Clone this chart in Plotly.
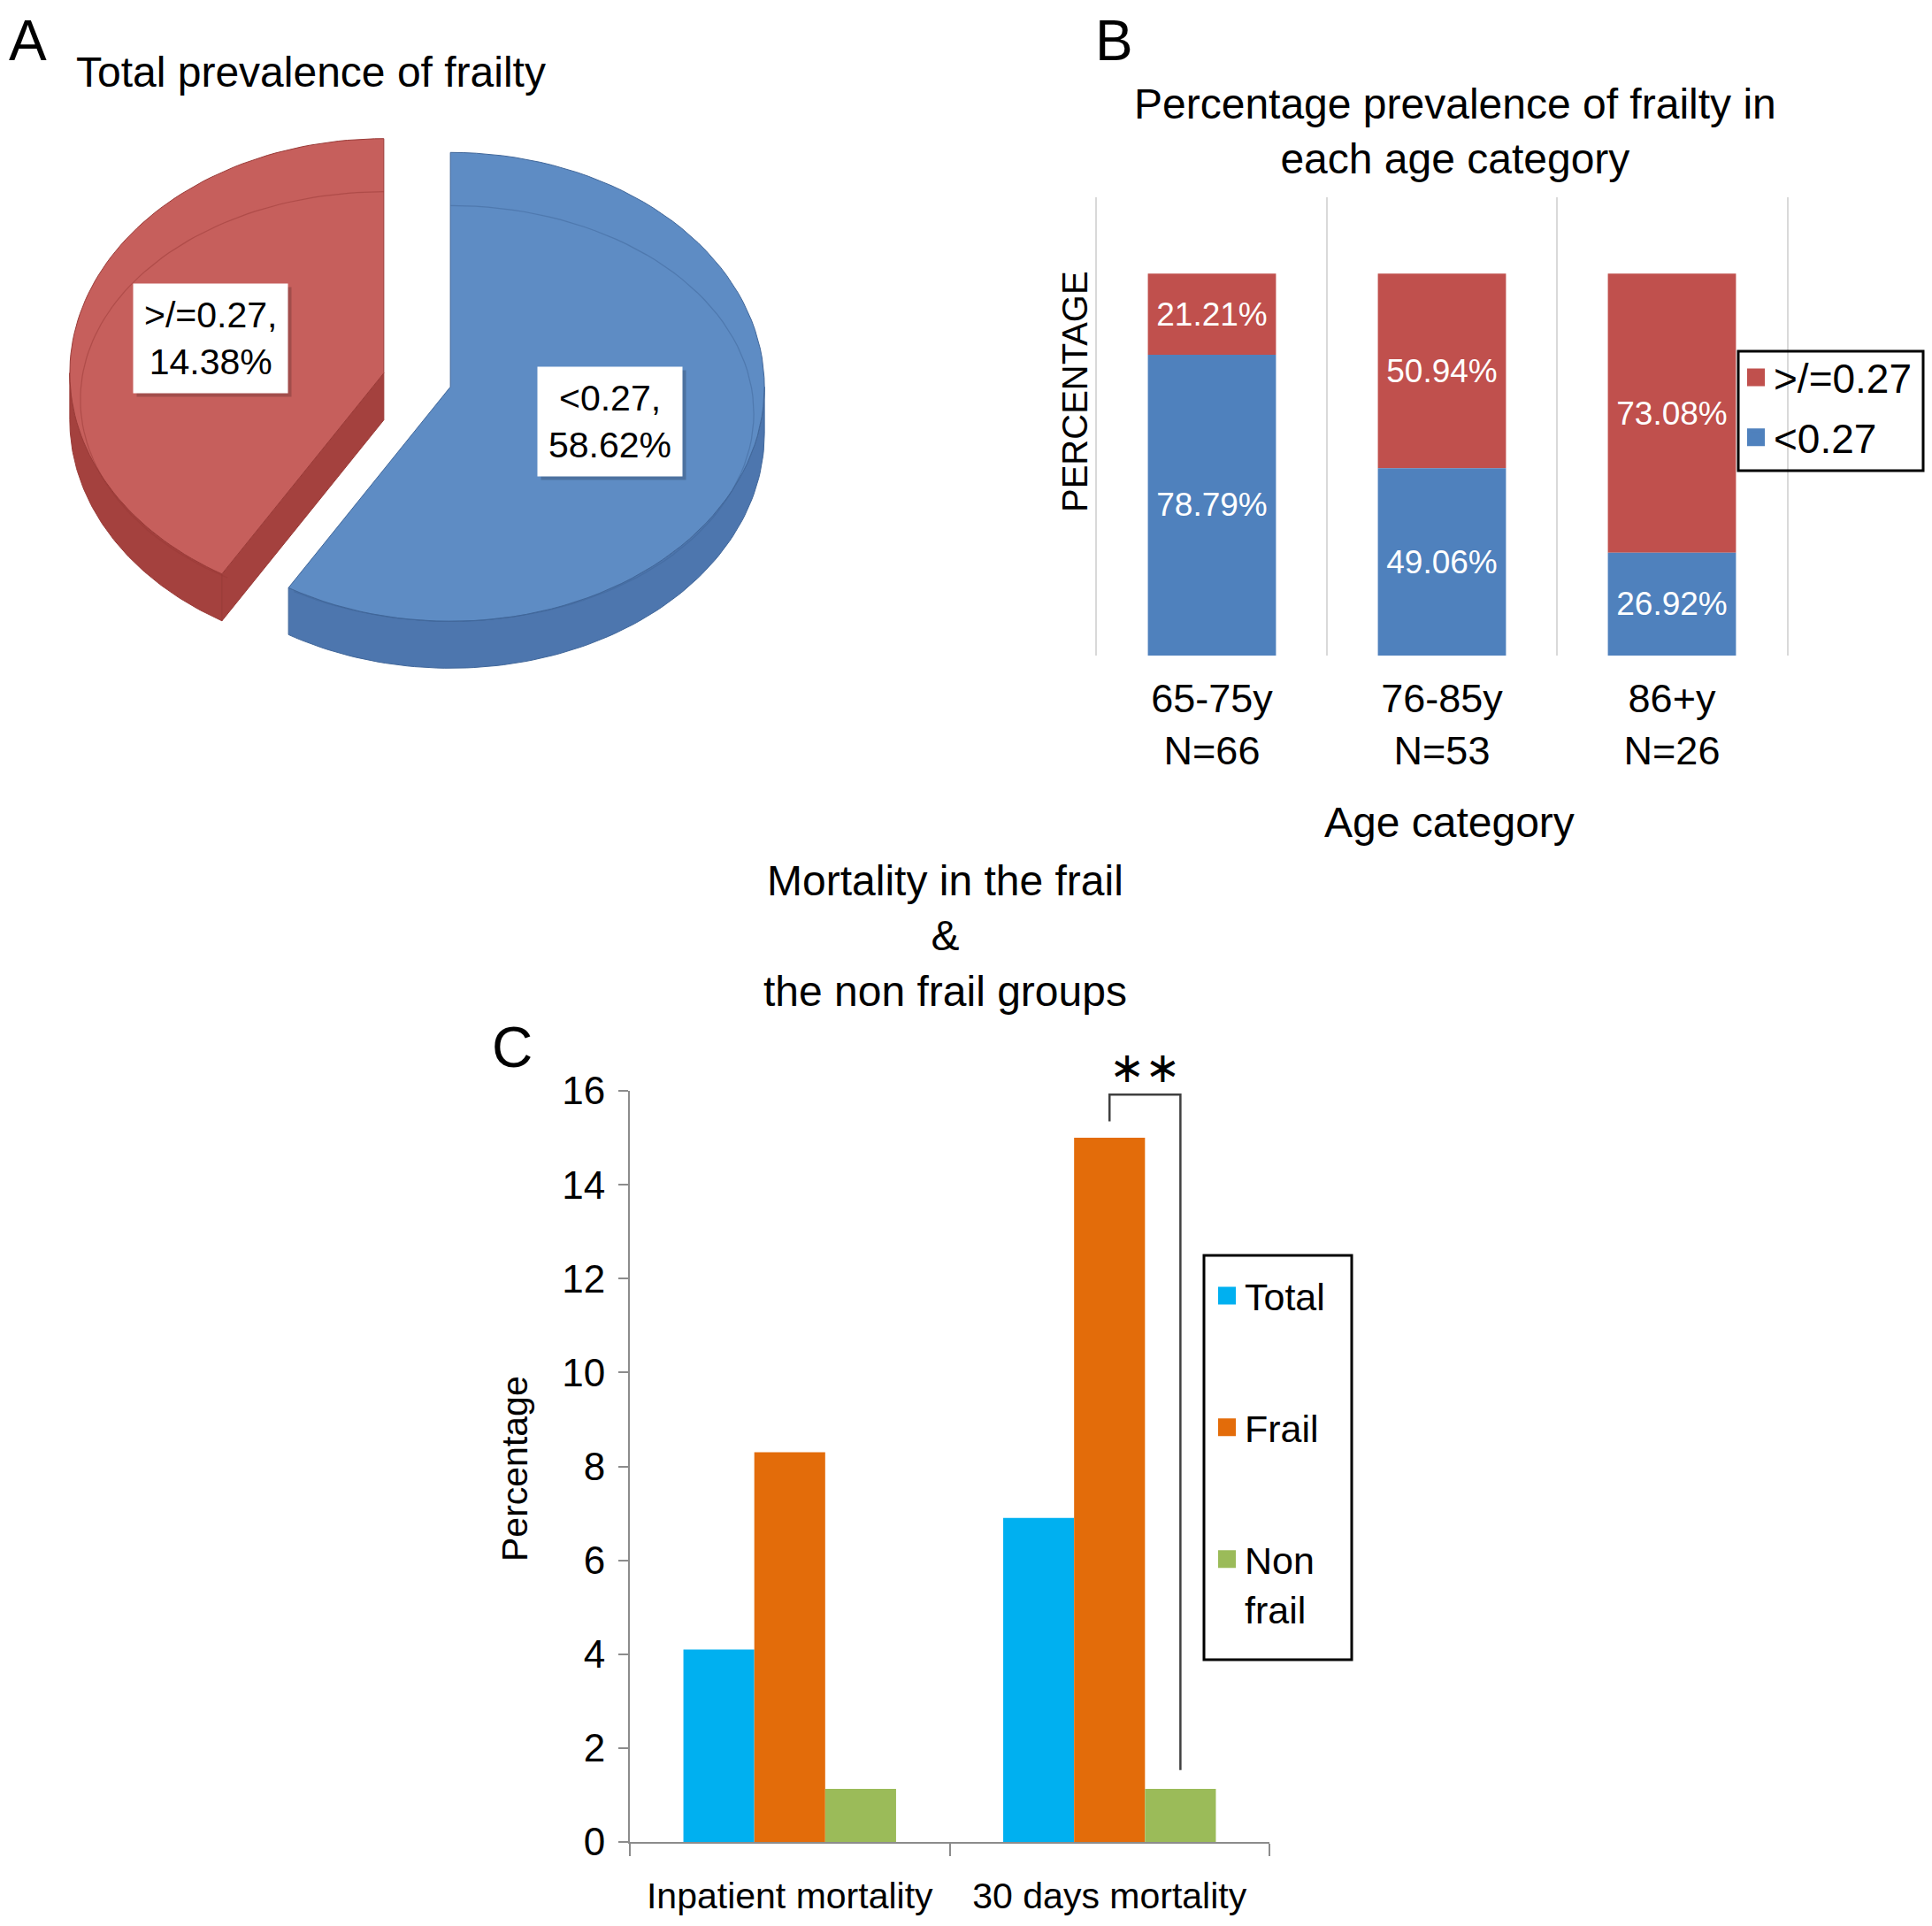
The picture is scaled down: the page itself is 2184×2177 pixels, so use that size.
import numpy as np
import plotly.graph_objects as go

W, H = 2184, 2177
PAGE_PAD = 8                      # default body margin of the html page
FIG_W, FIG_H = W - 2 * PAGE_PAD, H - 2 * PAGE_PAD

# ---- panel A : total prevalence ----
PIE_NAMES = ['>/=0.27', '<0.27']
PIE_VALUES = [41.38, 58.62]                                # slice sizes as drawn
PIE_TEXT = ['&gt;/=0.27,<br>14.38%', '&lt;0.27,<br>58.62%']  # labels as printed

# ---- panel B : prevalence per age category ----
AGE_CATS = ['65-75y<br>N=66', '76-85y<br>N=53', '86+y<br>N=26']
FRAIL_PCT = [21.21, 50.94, 73.08]
NONFRAIL_PCT = [78.79, 49.06, 26.92]

# ---- panel C : mortality ----
MORT_CATS = ['Inpatient mortality', '30 days mortality']
TOTAL_MORT = [4.1, 6.9]
FRAIL_MORT = [8.3, 15.0]
NONFRAIL_MORT = [1.13, 1.13]

RED, BLUE = '#C0504D', '#4F81BD'
C_TOTAL, C_FRAIL, C_NON = '#00B0F0', '#E36C0A', '#9BBB59'
AXGRAY = '#8C8C8C'

# pie look (page pixel units of panel A)
CX, CY, RX, RY, DEPTH = 471.5, 429.5, 355, 265, 53
EXPLODE, BEVEL, LABEL_R, LABEL_DX = 0.11, 30, 0.55, -8
PIE_STYLE = [dict(top='#C65F5C', side='#A4413E', edge='#9A3B38'),
             dict(top='#5E8CC4', side='#4D76AE', edge='#41679A')]

Y3_MAX = 16


def px_x(x):
    return (x - PAGE_PAD) / FIG_W


def px_y(y):
    return 1 - (y - PAGE_PAD) / FIG_H


def arc(cx, cy, t0, t1, rx=RX, ry=RY, dy=0, n=90):
    t = np.radians(np.linspace(t0, t1, n))
    return cx + rx * np.cos(t), cy - ry * np.sin(t) + dy


def poly(xs, ys, fill, edge):
    return go.Scatter(x=list(xs), y=list(ys), fill='toself', fillcolor=fill, mode='lines',
                      line=dict(color=edge, width=1), hoverinfo='skip', showlegend=False,
                      xaxis='x', yaxis='y')


def legend_square(name, color, leg, group, xa, ya):
    # legend-only entry, so the key square can be bigger than a bar icon
    return go.Scatter(x=[None], y=[None], mode='markers', name=name, legend=leg,
                      legendgroup=group, xaxis=xa, yaxis=ya, hoverinfo='skip',
                      marker=dict(symbol='square', size=16, color=color,
                                  line=dict(color=color, width=4)))


fig = go.Figure()

#                                  3D pie
total = sum(PIE_VALUES)
start = 90.0
slices = []
for v, st in zip(PIE_VALUES, PIE_STYLE):
    t0, t1 = start, start + v / total * 360
    start = t1
    mid = (t0 + t1) / 2
    ax = CX + EXPLODE * RX * np.cos(np.radians(mid))
    ay = CY - EXPLODE * RY * np.sin(np.radians(mid))
    slices.append((t0, t1, mid, ax, ay, st))

# side walls first
for t0, t1, mid, ax, ay, st in slices:
    for k in (0, 360):
        lo, hi = max(t0, 180 + k), min(t1, 360 + k)
        if hi > lo:
            xt, yt = arc(ax, ay, lo, hi)
            xb, yb = arc(ax, ay, hi, lo, dy=DEPTH)
            fig.add_trace(poly(np.r_[xt, xb, xt[:1]], np.r_[yt, yb, yt[:1]], st['side'], st['edge']))
    for t, nrm in ((t0, t0 - 90), (t1, t1 + 90)):
        if np.sin(np.radians(nrm)) < -0.01:
            rx_, ry_ = arc(ax, ay, t, t, n=1)
            xs = [ax, rx_[0], rx_[0], ax, ax]
            ys = [ay, ry_[0], ry_[0] + DEPTH, ay + DEPTH, ay]
            fig.add_trace(poly(xs, ys, st['side'], st['edge']))

# top faces
for t0, t1, mid, ax, ay, st in slices:
    xa, ya = arc(ax, ay, t0, t1)
    fig.add_trace(poly(np.r_[ax, xa, ax], np.r_[ay, ya, ay], st['top'], st['edge']))
    xi, yi = arc(ax, ay, t0, t1, rx=RX - 12, ry=RY - BEVEL, dy=BEVEL)
    fig.add_trace(go.Scatter(x=xi, y=yi, mode='lines', line=dict(color=st['edge'], width=1.2),
                             opacity=0.5, hoverinfo='skip', showlegend=False, xaxis='x', yaxis='y'))

annotations = []
for (t0, t1, mid, ax, ay, st), txt in zip(slices, PIE_TEXT):
    lx = ax + LABEL_R * RX * np.cos(np.radians(mid)) + LABEL_DX
    ly = ay - LABEL_R * RY * np.sin(np.radians(mid))
    # soft shadow then the white label box
    annotations.append(dict(text=txt, x=lx, y=ly, xref='x', yref='y', showarrow=False,
                            xshift=4, yshift=-4, bgcolor='rgba(0,0,0,0.18)', borderpad=12,
                            font=dict(size=41, color='rgba(0,0,0,0)')))
    annotations.append(dict(text=txt, x=lx, y=ly, xref='x', yref='y', showarrow=False,
                            bgcolor='white', borderpad=12, font=dict(size=41, color='black')))

#                                  stacked bars (B)
BAR_W_B = 0.557
fig.add_trace(go.Bar(x=AGE_CATS, y=FRAIL_PCT, base=NONFRAIL_PCT, name='&gt;/=0.27',
                     marker=dict(color=RED, line_width=0), width=BAR_W_B, offset=-BAR_W_B / 2,
                     text=[f'{v:.2f}%' for v in FRAIL_PCT], textposition='inside',
                     insidetextanchor='middle', textangle=0, constraintext='none',
                     textfont=dict(color='white', size=37), showlegend=False,
                     xaxis='x2', yaxis='y2'))
fig.add_trace(go.Bar(x=AGE_CATS, y=NONFRAIL_PCT, name='&lt;0.27',
                     marker=dict(color=BLUE, line_width=0), width=BAR_W_B, offset=-BAR_W_B / 2,
                     text=[f'{v:.2f}%' for v in NONFRAIL_PCT], textposition='inside',
                     insidetextanchor='middle', textangle=0, constraintext='none',
                     textfont=dict(color='white', size=37), showlegend=False,
                     xaxis='x2', yaxis='y2'))
fig.add_trace(legend_square('&gt;/=0.27', RED, 'legend', 'b1', 'x2', 'y2'))
fig.add_trace(legend_square('&lt;0.27', BLUE, 'legend', 'b2', 'x2', 'y2'))

#                                  grouped bars (C)
BARGAP_C = 0.335
for name, vals, col in (('Total', TOTAL_MORT, C_TOTAL), ('Frail', FRAIL_MORT, C_FRAIL),
                        ('Non<br>frail', NONFRAIL_MORT, C_NON)):
    fig.add_trace(go.Bar(x=MORT_CATS, y=vals, name=name, marker=dict(color=col, line_width=0),
                         showlegend=False, xaxis='x3', yaxis='y3'))
    fig.add_trace(legend_square(name, col, 'legend2', 'c' + name, 'x3', 'y3'))

# significance bracket between frail and non frail, 30 days
slot = (1 - BARGAP_C) / 3
x_fr, x_nf = 1.0, 1.0 + slot
y_top = FRAIL_MORT[1] + 0.92
shapes = [dict(type='path', xref='x3', yref='y3',
               path=f'M {x_fr},{FRAIL_MORT[1] + 0.35} L {x_fr},{y_top} L {x_nf},{y_top} '
                    f'L {x_nf},{NONFRAIL_MORT[1] + 0.4}',
               line=dict(color='#404040', width=2.5))]
annotations.append(dict(text='∗∗', x=(x_fr + x_nf) / 2, y=(y_top + 1.15) / Y3_MAX,
                        xref='x3', yref='y3 domain', showarrow=False,
                        font=dict(size=48, family='DejaVu Sans', color='black')))

# legend frames (drawn as shapes so their size can follow the source)
for x0, y0, x1, y1 in ((1965, 397, 2174, 532), (1361, 1419, 1528, 1876)):
    shapes.append(dict(type='rect', xref='paper', yref='paper', x0=px_x(x0), x1=px_x(x1),
                       y0=px_y(y1), y1=px_y(y0), line=dict(color='black', width=3)))


def ann(text, x, y, size, **kw):
    d = dict(text=text, x=px_x(x), y=px_y(y), xref='paper', yref='paper', xanchor='center',
             yanchor='middle', showarrow=False, font=dict(size=size, color='black'))
    d.update(kw)
    return d


annotations += [
    ann('A', PAGE_PAD, PAGE_PAD, 64, xanchor='left', yanchor='top'),
    ann('B', 1259, PAGE_PAD, 64, yanchor='top'),
    ann('C', 579, 1184, 64),
    ann('Total prevalence of frailty', 351, 81, 48),
    ann('Percentage prevalence of frailty in<br>each age category', 1645, 148, 48),
    ann('Age category', 1638, 929, 48),
    ann('PERCENTAGE', 1215, 443, 40, textangle=-90),
    ann('Mortality in the frail<br>&amp;<br>the non frail groups', 1068, 1058, 48),
    ann('Percentage', 582, 1660, 41, textangle=-90),
]

fig.update_layout(
    width=FIG_W, height=FIG_H, autosize=False,
    margin=dict(l=0, r=0, t=0, b=0, autoexpand=False),
    paper_bgcolor='white', plot_bgcolor='white',
    font=dict(family='Liberation Sans', color='black'),
    barmode='group', bargap=BARGAP_C, bargroupgap=0,
    uniformtext=dict(minsize=37, mode='show'),
    annotations=annotations, shapes=shapes,
    xaxis=dict(domain=[0, px_x(1092)], range=[PAGE_PAD, 1092], visible=False),
    yaxis=dict(domain=[px_y(1000), 1], range=[1000, PAGE_PAD], visible=False),
    xaxis2=dict(domain=[px_x(1240), px_x(2020)], anchor='y2', type='category',
                range=[-0.5, 2.5], tickson='boundaries', showgrid=True, gridcolor='#D9D9D9',
                gridwidth=2, ticks='', showline=False, zeroline=False,
                tickfont=dict(size=45), ticklabelstandoff=18),
    yaxis2=dict(domain=[px_y(741), px_y(223)], anchor='x2', range=[0, 120], showgrid=False,
                showticklabels=False, zeroline=False, showline=True, mirror=True,
                linecolor='#D9D9D9', linewidth=2),
    xaxis3=dict(domain=[px_x(712), px_x(1435)], anchor='y3', type='category',
                range=[-0.5, 1.5], tickson='boundaries', ticks='outside', ticklen=14,
                tickwidth=2, tickcolor=AXGRAY, showline=True, linecolor=AXGRAY, linewidth=2,
                showgrid=False, zeroline=False, tickfont=dict(size=41), ticklabelstandoff=24),
    yaxis3=dict(domain=[px_y(2082), px_y(1233)], anchor='x3', range=[0, Y3_MAX], dtick=2,
                ticks='outside', ticklen=11, tickwidth=2, tickcolor=AXGRAY, showline=True,
                linecolor=AXGRAY, linewidth=2, showgrid=False, zeroline=False,
                tickfont=dict(size=44), ticklabelstandoff=6),
    legend=dict(x=px_x(1965), y=px_y(390), xanchor='left', yanchor='top',
                bgcolor='rgba(0,0,0,0)', borderwidth=0, font=dict(size=46),
                traceorder='grouped', tracegroupgap=5),
    legend2=dict(x=px_x(1367), y=px_y(1430), xanchor='left', yanchor='top',
                 bgcolor='rgba(0,0,0,0)', borderwidth=0, font=dict(size=43),
                 traceorder='grouped', tracegroupgap=90, valign='top'),
)

fig.write_html('out.html')
